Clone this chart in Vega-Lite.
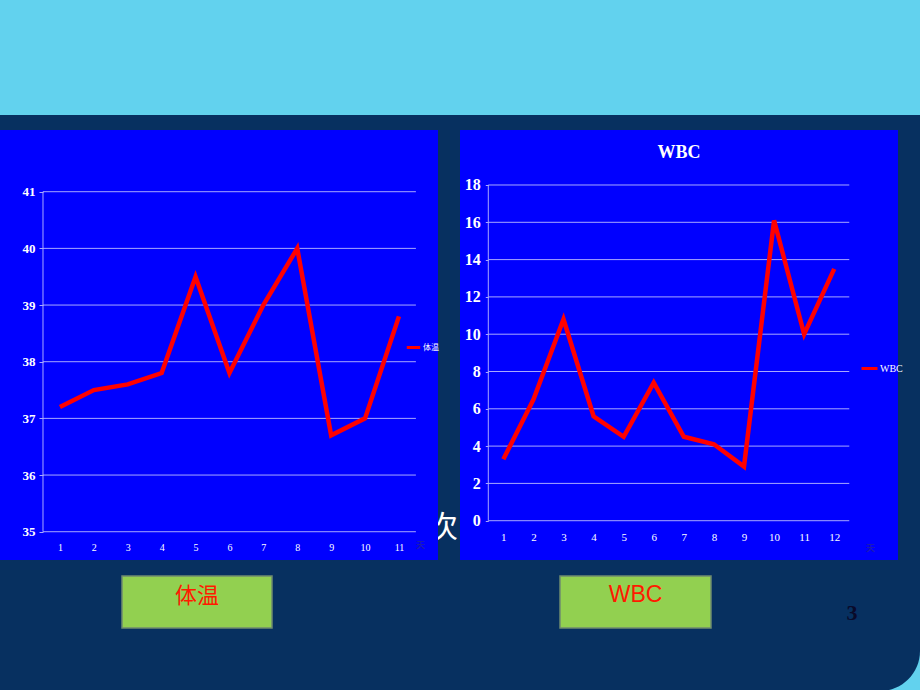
{
  "$schema": "https://vega.github.io/schema/vega-lite/v6.json",
  "background": "#073060",
  "padding": 0,
  "bounds": "full",
  "spacing": 15,
  "config": {"view": {"stroke": null}, "font": "Liberation Serif"},
  "vconcat": [
    {
      "width": 920, "height": 115,
      "view": {"fill": "#62d2ee", "stroke": null},
      "data": {"values": [{}]},
      "mark": {"type": "text", "text": ""}
    },
    {
      "hconcat": [
        {
          "width": 438, "height": 430,
          "view": {"fill": "#0000ff", "stroke": null},
          "layer": [
            {
              "data": {"values": [{"v": 35}, {"v": 36}, {"v": 37}, {"v": 38}, {"v": 39}, {"v": 40}, {"v": 41}]},
              "mark": {"type": "rule", "color": "#a8a8ff", "strokeWidth": 1},
              "encoding": {
                "y": {"field": "v", "type": "quantitative", "title": null},
                "x": {"datum": 0.5, "type": "quantitative", "title": null},
                "x2": {"datum": 11.5}
              }
            },
            {
              "data": {"values": [{}]},
              "mark": {"type": "rule", "color": "#a8a8ff", "strokeWidth": 1},
              "encoding": {
                "x": {"datum": 0.5, "type": "quantitative", "title": null},
                "y": {"datum": 35, "type": "quantitative", "title": null},
                "y2": {"datum": 41}
              }
            },
            {
              "data": {"values": [
                {"day": 1, "v": 37.2}, {"day": 2, "v": 37.5}, {"day": 3, "v": 37.6},
                {"day": 4, "v": 37.8}, {"day": 5, "v": 39.5}, {"day": 6, "v": 37.8},
                {"day": 7, "v": 39.0}, {"day": 8, "v": 40.0}, {"day": 9, "v": 36.7},
                {"day": 10, "v": 37.0}, {"day": 11, "v": 38.8}
              ]},
              "mark": {"type": "line", "strokeWidth": 4.5, "strokeJoin": "miter"},
              "encoding": {
                "x": {
                  "field": "day", "type": "quantitative",
                  "scale": {"domain": [-0.768, 12.152], "nice": false, "zero": false},
                  "axis": {
                    "orient": "bottom", "offset": -28.3, "values": [1, 2, 3, 4, 5, 6, 7, 8, 9, 10, 11], "tickCount": 30,
                    "domain": false, "ticks": false, "tickSize": 0, "grid": false,
                    "labelPadding": 11, "labelColor": "white", "labelFont": "Liberation Serif",
                    "labelFontSize": 10, "labelFlush": false, "labelOverlap": false, "format": "d",
                    "title": "天", "titleColor": "#1a1ab8", "titleFontSize": 9, "titleFont": "Noto Sans CJK SC",
                    "titleX": 420, "titleY": 13, "titleAlign": "center", "titleBaseline": "middle", "titleAngle": 0
                  }
                },
                "y": {
                  "field": "v", "type": "quantitative",
                  "scale": {"domain": [34.501, 42.089], "nice": false, "zero": false},
                  "axis": {
                    "orient": "left", "offset": -43, "values": [35, 36, 37, 38, 39, 40, 41], "tickCount": 30,
                    "domain": false, "ticks": true, "tickSize": 4, "tickColor": "#a8a8ff", "grid": false,
                    "labelPadding": 4, "labelColor": "white", "labelFont": "Liberation Serif",
                    "labelFontSize": 13, "labelFontWeight": "bold", "format": "d", "labelOverlap": false,
                    "title": "℃", "titleColor": "#7070c8", "titleFontSize": 9, "titleFont": "DejaVu Sans",
                    "titleAngle": 0, "titleX": -3, "titleY": 48, "titleAlign": "center", "titleBaseline": "middle"
                  }
                },
                "color": {
                  "datum": "体温",
                  "scale": {"domain": ["体温"], "range": ["#ff0000"]},
                  "legend": {
                    "orient": "none", "legendX": 405, "legendY": 209, "title": null, "padding": 0,
                    "symbolType": "stroke", "symbolStrokeWidth": 3, "symbolSize": 180,
                    "labelColor": "white", "labelFontSize": 8, "labelFont": "Noto Sans CJK SC", "labelOffset": 1
                  }
                }
              }
            }
          ]
        },
        {
          "width": 22, "height": 430,
          "data": {"values": [{}]},
          "mark": {"type": "text", "text": "次", "color": "white", "fontSize": 30, "font": "Noto Sans CJK SC", "clip": true, "dx": -6, "dy": 183}
        },
        {
          "width": 438, "height": 430,
          "view": {"fill": "#0000ff", "stroke": null},
          "title": {"text": "WBC", "color": "white", "font": "Liberation Serif", "fontSize": 18, "fontWeight": "bold", "anchor": "middle", "frame": "group", "offset": -46, "baseline": "alphabetic"},
          "layer": [
            {
              "data": {"values": [{"v": 0}, {"v": 2}, {"v": 4}, {"v": 6}, {"v": 8}, {"v": 10}, {"v": 12}, {"v": 14}, {"v": 16}, {"v": 18}]},
              "mark": {"type": "rule", "color": "#a8a8ff", "strokeWidth": 1},
              "encoding": {
                "y": {"field": "v", "type": "quantitative", "title": null},
                "x": {"datum": 0.5, "type": "quantitative", "title": null},
                "x2": {"datum": 12.5}
              }
            },
            {
              "data": {"values": [{}]},
              "mark": {"type": "rule", "color": "#a8a8ff", "strokeWidth": 1},
              "encoding": {
                "x": {"datum": 0.5, "type": "quantitative", "title": null},
                "y": {"datum": 0, "type": "quantitative", "title": null},
                "y2": {"datum": 18}
              }
            },
            {
              "data": {"values": [
                {"day": 1, "v": 3.3}, {"day": 2, "v": 6.5}, {"day": 3, "v": 10.8},
                {"day": 4, "v": 5.6}, {"day": 5, "v": 4.5}, {"day": 6, "v": 7.4},
                {"day": 7, "v": 4.5}, {"day": 8, "v": 4.1}, {"day": 9, "v": 2.9},
                {"day": 10, "v": 16.1}, {"day": 11, "v": 10.0}, {"day": 12, "v": 13.5}
              ]},
              "mark": {"type": "line", "strokeWidth": 4.5, "strokeJoin": "miter"},
              "encoding": {
                "x": {
                  "field": "day", "type": "quantitative",
                  "scale": {"domain": [-0.441, 14.12], "nice": false, "zero": false},
                  "axis": {
                    "orient": "bottom", "offset": -39.3, "values": [1, 2, 3, 4, 5, 6, 7, 8, 9, 10, 11, 12], "tickCount": 30,
                    "domain": false, "ticks": false, "tickSize": 0, "grid": false,
                    "labelPadding": 11, "labelColor": "white", "labelFont": "Liberation Serif",
                    "labelFontSize": 11, "labelFlush": false, "labelOverlap": false, "format": "d",
                    "title": "天", "titleColor": "#1a1ab8", "titleFontSize": 9, "titleFont": "Noto Sans CJK SC",
                    "titleX": 410, "titleY": 27, "titleAlign": "center", "titleBaseline": "middle", "titleAngle": 0
                  }
                },
                "y": {
                  "field": "v", "type": "quantitative",
                  "scale": {"domain": [-2.107, 20.949], "nice": false, "zero": false},
                  "axis": {
                    "orient": "left", "offset": -28.3, "values": [0, 2, 4, 6, 8, 10, 12, 14, 16, 18], "tickCount": 30,
                    "domain": false, "ticks": true, "tickSize": 3, "tickColor": "#a8a8ff", "grid": false,
                    "labelPadding": 5, "labelColor": "white", "labelFont": "Liberation Serif",
                    "labelFontSize": 16, "labelFontWeight": "bold", "format": "d", "labelOverlap": false, "title": null
                  }
                },
                "color": {
                  "datum": "WBC",
                  "scale": {"domain": ["WBC"], "range": ["#ff0000"]},
                  "legend": {
                    "orient": "none", "legendX": 400, "legendY": 229, "title": null, "padding": 0,
                    "symbolType": "stroke", "symbolStrokeWidth": 3, "symbolSize": 256,
                    "labelColor": "white", "labelFontSize": 10, "labelFont": "Liberation Serif", "labelOffset": 1
                  }
                }
              }
            }
          ]
        }
      ],
      "spacing": 0,
      "bounds": "flush",
      "resolve": {"scale": {"color": "independent"}, "legend": {"color": "independent"}}
    },
    {
      "hconcat": [
        {"width": 122, "height": 115, "data": {"values": [{}]}, "mark": {"type": "text", "text": ""}},
        {
          "width": 150, "height": 52,
          "view": {"fill": "#92d050", "stroke": "#6f8a6f", "strokeWidth": 1.5},
          "data": {"values": [{"label": "体温"}]},
          "mark": {"type": "text", "color": "#ff1a00", "fontSize": 22, "font": "Noto Sans CJK SC", "dy": -6},
          "encoding": {"text": {"field": "label"}}
        },
        {"width": 288, "height": 10, "data": {"values": [{}]}, "mark": {"type": "text", "text": ""}},
        {
          "width": 151, "height": 52,
          "view": {"fill": "#92d050", "stroke": "#6f8a6f", "strokeWidth": 1.5},
          "data": {"values": [{"label": "WBC"}]},
          "mark": {"type": "text", "color": "#ff1a00", "fontSize": 23, "font": "Liberation Sans", "dy": -7},
          "encoding": {"text": {"field": "label"}}
        },
        {"width": 121, "height": 10, "data": {"values": [{}]}, "mark": {"type": "text", "text": ""}},
        {
          "width": 88, "height": 115,
          "view": {"fill": "#62d2ee", "stroke": null},
          "data": {"values": [{"n": "3"}]},
          "layer": [
            {"mark": {"type": "rect", "color": "#073060", "cornerRadiusBottomRight": 40, "strokeWidth": 0}},
            {
              "mark": {"type": "text", "color": "#0a0a2a", "fontSize": 22, "font": "Liberation Serif", "fontWeight": "bold", "dx": -24, "dy": -20.5},
              "encoding": {"text": {"field": "n"}}
            }
          ]
        }
      ],
      "spacing": 0,
      "bounds": "flush"
    }
  ]
}
